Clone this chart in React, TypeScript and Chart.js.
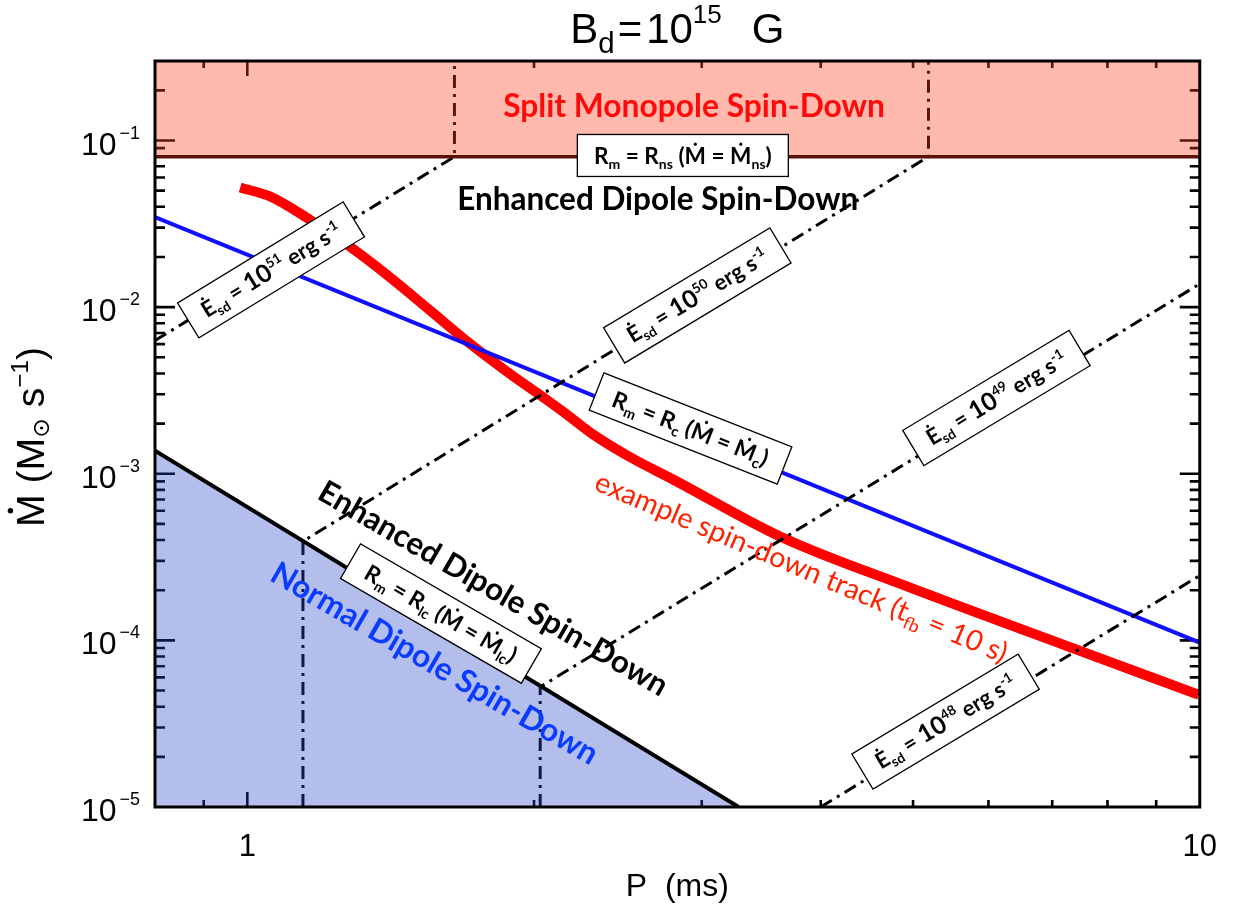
import React, { useEffect, useRef } from 'react';
import { Chart, registerables } from 'chart.js';
Chart.register(...registerables);

// ---------------- data ----------------
const xMin = 0.8;
const xMax = 10;
const yMin = 1e-5;
const yMax = 0.3;

const xTickValues = [1, 10];
const xTickLabels = ['1', '10'];
const yTickValues = [1e-5, 1e-4, 1e-3, 1e-2, 1e-1];
const yTickBase = ['10', '10', '10', '10', '10'];
const yTickExps = ['−5', '−4', '−3', '−2', '−1'];

// example spin-down track (t_fb = 10 s)
const trackP = [0.983, 1.057, 1.163, 1.281, 1.409, 1.552, 1.708, 1.88, 2.055, 2.146, 2.317, 2.508, 2.815, 3.63, 4.935, 7.39, 9.98];
const trackMdot = [0.0522, 0.0461, 0.0335, 0.0231, 0.01525, 0.00966, 0.00612, 0.00404, 0.00282, 0.002357, 0.001691, 0.001282, 9.08e-4, 4.19e-4, 2.1e-4, 8.89e-5, 4.71e-5];

// R_m = R_c
const rcP = [0.8, 10];
const rcMdot = [0.0347, 9.7e-5];
// R_m = R_lc
const lcP = [0.8, 3.28];
const lcMdot = [1.375e-3, 1e-5];
// R_m = R_ns
const nsP = [0.8, 10];
const nsMdot = [0.08, 0.08];

// constant spin-down luminosity contours
const e51P = [0.8, 1.65, 1.65];
const e51Mdot = [6.3e-3, 0.08, 0.3];
const e50P = [1.144, 1.144, 5.19, 5.19];
const e50Mdot = [1e-5, 3.93e-4, 0.08, 0.3];
const e49P = [2.03, 2.03, 10];
const e49Mdot = [1e-5, 5.25e-5, 0.0138];
const e48P = [4.0, 10];
const e48Mdot = [1e-5, 2.45e-4];

const zip = (xs: number[], ys: number[]) => xs.map((x, i) => ({ x, y: ys[i] }));

// ---------------- rich text ----------------
type Seg = { t: string; k?: 'sub' | 'sup'; dot?: boolean; dx?: number; s?: number; dy?: number };

function segSize(size: number, sg: Seg) {
  return size * (sg.s ?? (sg.k ? 0.62 : 1));
}

function measureRich(ctx: CanvasRenderingContext2D, segs: Seg[], size: number, weight: string, family: string) {
  let w = 0;
  for (const sg of segs) {
    ctx.font = `${weight} ${segSize(size, sg)}px ${family}`;
    w += (sg.dx ?? 0) + ctx.measureText(sg.t).width;
  }
  return w;
}

type RichOpts = {
  x: number; y: number; angle: number; size: number; family: string; weight?: string; color?: string;
  fit?: number; box?: { w: number; h: number }; align?: 'center' | 'right';
};

function drawRich(ctx: CanvasRenderingContext2D, segs: Seg[], o: RichOpts) {
  const weight = o.weight ?? 'normal';
  let size = o.size;
  if (o.fit) {
    const w0 = measureRich(ctx, segs, size, weight, o.family);
    size = (size * o.fit) / w0;
  }
  const w = measureRich(ctx, segs, size, weight, o.family);
  ctx.save();
  ctx.translate(o.x, o.y);
  ctx.rotate((o.angle * Math.PI) / 180);
  if (o.box) {
    ctx.fillStyle = '#ffffff';
    ctx.fillRect(-o.box.w / 2, -o.box.h / 2, o.box.w, o.box.h);
    ctx.strokeStyle = '#000000';
    ctx.lineWidth = 1.3;
    ctx.strokeRect(-o.box.w / 2, -o.box.h / 2, o.box.w, o.box.h);
  }
  ctx.fillStyle = o.color ?? '#000';
  ctx.textAlign = 'left';
  ctx.textBaseline = 'alphabetic';
  const base = 0.36 * size;
  let cx = o.align === 'right' ? -w : -w / 2;
  for (const sg of segs) {
    const fs = segSize(size, sg);
    ctx.font = `${weight} ${fs}px ${o.family}`;
    cx += sg.dx ?? 0;
    const dy = sg.dy !== undefined ? sg.dy * size : sg.k === 'sub' ? 0.22 * size : sg.k === 'sup' ? -0.4 * size : 0;
    const sw = ctx.measureText(sg.t).width;
    ctx.fillText(sg.t, cx, base + dy);
    if (sg.dot) {
      ctx.beginPath();
      ctx.arc(cx + sw / 2, base + dy - 0.86 * fs, 0.07 * fs, 0, Math.PI * 2);
      ctx.fill();
    }
    cx += sw;
  }
  ctx.restore();
}

const esd = (p: string): Seg[] => [
  { t: 'E', dot: true },
  { t: 'sd', k: 'sub' },
  { t: ' = ' },
  { t: '10', s: 1.12 },
  { t: p, k: 'sup', dy: -0.45 },
  { t: ' erg s' },
  { t: '-1', k: 'sup' },
];

const LATO = '"Lato", "Open Sans", sans-serif';
const HELV = '"Liberation Sans", "DejaVu Sans", sans-serif';

type Annot = { segs: Seg[]; P: number; M: number; angle: number; fit: number; color?: string; weight?: string; box?: { w: number; h: number }; family?: string };

const annotations: Annot[] = [
  { segs: [{ t: 'Split Monopole Spin-Down' }], P: 2.945, M: 0.1623, angle: 0, fit: 382, color: '#ff0a0a', weight: 'bold' },
  {
    segs: [{ t: 'R' }, { t: 'm', k: 'sub' }, { t: ' = R' }, { t: 'ns', k: 'sub' }, { t: ' (' }, { t: 'M', dot: true }, { t: ' = ' }, { t: 'M', dot: true }, { t: 'ns', k: 'sub' }, { t: ')' }],
    P: 2.866, M: 0.0813, angle: 0, fit: 178, weight: 'bold', box: { w: 211, h: 42 },
  },
  { segs: [{ t: 'Enhanced Dipole Spin-Down' }], P: 2.697, M: 0.04484, angle: 0, fit: 401, weight: 'bold' },
  { segs: esd('51'), P: 1.059, M: 0.01673, angle: -31.4, fit: 160, weight: 'bold', box: { w: 194, h: 41 } },
  { segs: esd('50'), P: 2.968, M: 0.01175, angle: -31, fit: 160, weight: 'bold', box: { w: 194, h: 41 } },
  { segs: esd('49'), P: 6.117, M: 0.002849, angle: -31, fit: 160, weight: 'bold', box: { w: 194, h: 41 } },
  { segs: esd('48'), P: 5.409, M: 3.253e-5, angle: -31, fit: 160, weight: 'bold', box: { w: 194, h: 41 } },
  {
    segs: [{ t: 'R' }, { t: 'm', k: 'sub' }, { t: ' = R' }, { t: 'c', k: 'sub' }, { t: ' (' }, { t: 'M', dot: true }, { t: ' = ' }, { t: 'M', dot: true }, { t: 'c', k: 'sub' }, { t: ')' }],
    P: 2.92, M: 0.001868, angle: 21.5, fit: 166, weight: 'bold', box: { w: 202, h: 40 },
  },
  {
    segs: [{ t: 'R' }, { t: 'm', k: 'sub' }, { t: ' = R' }, { t: 'lc', k: 'sub' }, { t: ' (' }, { t: 'M', dot: true }, { t: ' = ' }, { t: 'M', dot: true }, { t: 'lc', k: 'sub' }, { t: ')' }],
    P: 1.597, M: 1.449e-4, angle: 30.1, fit: 172, weight: 'bold', box: { w: 209, h: 40 },
  },
  { segs: [{ t: 'Enhanced Dipole Spin-Down' }], P: 1.814, M: 2.067e-4, angle: 30, fit: 398, weight: 'bold' },
  { segs: [{ t: 'Normal Dipole Spin-Down' }], P: 1.574, M: 7.33e-5, angle: 30, fit: 372, weight: 'bold', color: '#0a3cff' },
  { segs: [{ t: 'example spin-down track (t' }, { t: 'fb', k: 'sub' }, { t: ' = 10 s)' }], P: 3.819, M: 2.762e-4, angle: 23, fit: 445, weight: 'normal', color: '#ff2200' },
];

const isDecade = (v: number) => Math.abs(Math.log10(v) - Math.round(Math.log10(v))) < 1e-6;

function logTicks(min: number, max: number) {
  const out: { value: number }[] = [];
  for (let e = Math.floor(Math.log10(min)); e <= Math.ceil(Math.log10(max)); e++) {
    for (let m = 1; m <= 9; m++) {
      const v = m * Math.pow(10, e);
      if (v >= min * 0.9999 && v <= max * 1.0001) out.push({ value: v });
    }
  }
  return out;
}

const labelFor = (vals: number[], labels: string[]) => (value: any) => {
  const v = Number(value);
  const i = vals.findIndex((t) => Math.abs(Math.log10(t) - Math.log10(v)) < 1e-6);
  return i >= 0 ? labels[i] : '';
};

const decor = {
  id: 'decor',
  beforeDatasetsDraw(chart: any) {
    const { ctx, chartArea: a, scales } = chart;
    const x = scales.x;
    const y = scales.y;
    ctx.save();
    ctx.strokeStyle = '#000';
    ctx.lineWidth = 2.6;
    ctx.beginPath();
    for (const t of x.ticks) {
      const v = t.value;
      if (v <= xMin * 1.0001 || v >= xMax * 0.9999) continue;
      const px = x.getPixelForValue(v);
      const len = isDecade(v) ? 15 : 7;
      ctx.moveTo(px, a.bottom);
      ctx.lineTo(px, a.bottom - len);
      ctx.moveTo(px, a.top);
      ctx.lineTo(px, a.top + len);
    }
    for (const t of y.ticks) {
      const v = t.value;
      if (v <= yMin * 1.0001 || v >= yMax * 0.9999) continue;
      const py = y.getPixelForValue(v);
      const len = isDecade(v) ? 20 : 10;
      ctx.moveTo(a.left, py);
      ctx.lineTo(a.left + len, py);
      ctx.moveTo(a.right, py);
      ctx.lineTo(a.right - len, py);
    }
    ctx.stroke();
    ctx.restore();
  },
  afterDatasetsDraw(chart: any) {
    const { ctx, chartArea: a } = chart;
    ctx.save();
    ctx.strokeStyle = '#000';
    ctx.lineWidth = 3;
    ctx.strokeRect(a.left, a.top, a.right - a.left, a.bottom - a.top);
    ctx.restore();
  },
  afterDraw(chart: any) {
    const { ctx, chartArea: a, scales } = chart;
    // y tick labels (10 with superscript exponent)
    yTickValues.forEach((v, i) => {
      drawRich(ctx, [{ t: yTickBase[i] }, { t: yTickExps[i], k: 'sup', s: 0.56, dy: -0.5, dx: 3 }], {
        x: a.left - 15,
        y: scales.y.getPixelForValue(v) + 2.5,
        angle: 0,
        size: 32,
        family: HELV,
        color: '#000',
        align: 'right',
      });
    });
    for (const an of annotations) {
      drawRich(ctx, an.segs, {
        x: scales.x.getPixelForValue(an.P),
        y: scales.y.getPixelForValue(an.M),
        angle: an.angle,
        size: 24,
        family: an.family ?? LATO,
        weight: an.weight,
        color: an.color,
        fit: an.fit,
        box: an.box,
      });
    }
    // title
    drawRich(
      ctx,
      [{ t: 'B' }, { t: 'd', k: 'sub', s: 0.7, dy: 0.24 }, { t: '=', dx: 3 }, { t: '10', dx: 4 }, { t: '15', k: 'sup', s: 0.62, dy: -0.48 }, { t: 'G', dx: 30 }],
      { x: (a.left + a.right) / 2, y: 28, angle: 0, size: 42, family: HELV, color: '#000' }
    );
    // y-axis title
    drawRich(
      ctx,
      [{ t: 'M', dot: true }, { t: ' (M' }, { t: '⊙', k: 'sub', s: 0.6, dy: 0.12 }, { t: ' s' }, { t: '−1', k: 'sup' }, { t: ')' }],
      { x: 30, y: 437, angle: -90, size: 30, family: HELV, color: '#000', fit: 180 }
    );
  },
};

export default function App() {
  const ref = useRef<HTMLCanvasElement>(null);
  useEffect(() => {
    const dash = [13, 6, 3, 6];
    const esdStyle = { borderColor: '#000', borderWidth: 3, borderDash: dash, pointRadius: 0, fill: false, order: 4, clip: 0, tension: 0 };
    const chart = new Chart(ref.current as HTMLCanvasElement, {
      type: 'line',
      data: {
        datasets: [
          { label: 'track', data: zip(trackP, trackMdot), borderColor: '#ff0000', borderWidth: 10, pointRadius: 0, cubicInterpolationMode: 'monotone', borderCapStyle: 'butt', borderJoinStyle: 'round', fill: false, order: 6, clip: 0 } as any,
          { label: 'Rc', data: zip(rcP, rcMdot), borderColor: '#1010ff', borderWidth: 4, pointRadius: 0, fill: false, order: 5, clip: 0 } as any,
          { label: 'E51', data: zip(e51P, e51Mdot), ...esdStyle } as any,
          { label: 'E50', data: zip(e50P, e50Mdot), ...esdStyle } as any,
          { label: 'E49', data: zip(e49P, e49Mdot), ...esdStyle } as any,
          { label: 'E48', data: zip(e48P, e48Mdot), ...esdStyle } as any,
          { label: 'Rlc', data: zip(lcP, lcMdot), borderColor: '#000', borderWidth: 4, pointRadius: 0, fill: 'start', backgroundColor: 'rgba(40,70,200,0.35)', order: 2, clip: 0 } as any,
          { label: 'Rns', data: zip(nsP, nsMdot), borderColor: '#5a1206', borderWidth: 3.5, pointRadius: 0, fill: 'end', backgroundColor: 'rgba(255,60,29,0.36)', order: 1, clip: 0 } as any,
        ],
      },
      options: {
        animation: false,
        responsive: false,
        devicePixelRatio: 1,
        layout: { padding: { left: 0, top: 61, right: 33, bottom: 0 } },
        plugins: { legend: { display: false }, tooltip: { enabled: false }, title: { display: false } },
        scales: {
          x: {
            type: 'logarithmic',
            min: xMin,
            max: xMax,
            grid: { display: false, drawTicks: false },
            border: { display: false },
            afterBuildTicks: (s: any) => { s.ticks = logTicks(xMin, xMax); },
            afterFit: (s: any) => { s.height = 106; },
            ticks: {
              autoSkip: false,
              maxRotation: 0,
              padding: 22,
              color: '#000',
              font: { family: HELV, size: 31 },
              callback: labelFor(xTickValues, xTickLabels),
            },
            title: { display: true, text: 'P  (ms)', color: '#000', font: { family: HELV, size: 32 }, padding: { top: 0, bottom: 7 } },
          },
          y: {
            type: 'logarithmic',
            min: yMin,
            max: yMax,
            grid: { display: false, drawTicks: false },
            border: { display: false },
            afterBuildTicks: (s: any) => { s.ticks = logTicks(yMin, yMax); },
            afterFit: (s: any) => { s.width = 155; },
            ticks: { display: false },
          },
        },
      } as any,
      plugins: [decor],
    });
    return () => chart.destroy();
  }, []);
  return (
    <div style={{ position: 'absolute', left: 0, top: 0, width: 1239, height: 913, background: '#fff' }}>
      <canvas ref={ref} width={1239} height={913} style={{ display: 'block' }} />
    </div>
  );
}
